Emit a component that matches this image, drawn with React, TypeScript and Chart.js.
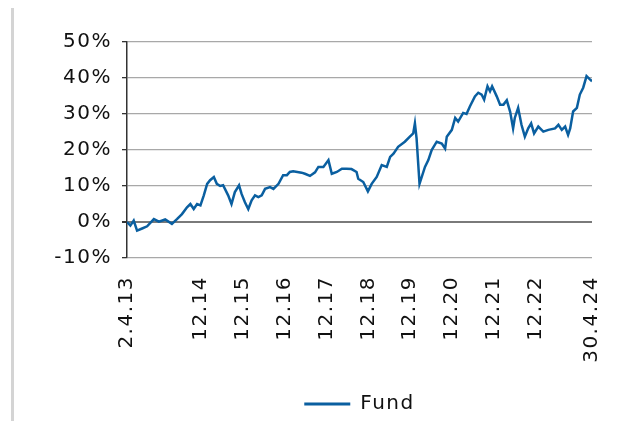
import React, { useEffect, useRef } from "react";
import { Chart, registerables } from "chart.js";

Chart.register(...registerables);

const years = [2013.25, 2013.33, 2013.41, 2013.49, 2013.61, 2013.73, 2013.89, 2014.01, 2014.16, 2014.32, 2014.44, 2014.56, 2014.68, 2014.76, 2014.84, 2014.92, 2015.0, 2015.08, 2015.16, 2015.23, 2015.32, 2015.39, 2015.47, 2015.54, 2015.66, 2015.74, 2015.82, 2015.92, 2015.98, 2016.06, 2016.14, 2016.22, 2016.3, 2016.38, 2016.46, 2016.54, 2016.66, 2016.74, 2016.86, 2016.97, 2017.06, 2017.13, 2017.21, 2017.41, 2017.49, 2017.61, 2017.73, 2017.81, 2017.93, 2018.05, 2018.13, 2018.25, 2018.37, 2018.48, 2018.6, 2018.72, 2018.76, 2018.88, 2018.99, 2019.08, 2019.2, 2019.32, 2019.44, 2019.52, 2019.6, 2019.71, 2019.87, 2019.99, 2020.07, 2020.11, 2020.15, 2020.22, 2020.35, 2020.43, 2020.51, 2020.63, 2020.75, 2020.83, 2020.87, 2020.99, 2021.07, 2021.14, 2021.26, 2021.34, 2021.42, 2021.54, 2021.62, 2021.7, 2021.76, 2021.84, 2021.9, 2021.95, 2022.06, 2022.14, 2022.22, 2022.3, 2022.38, 2022.45, 2022.49, 2022.57, 2022.65, 2022.73, 2022.81, 2022.88, 2022.95, 2023.05, 2023.17, 2023.29, 2023.45, 2023.53, 2023.61, 2023.69, 2023.76, 2023.81, 2023.88, 2023.97, 2024.04, 2024.12, 2024.2, 2024.28, 2024.33];

const fund = [0.0, -1.0, 0.4, -2.4, -1.8, -1.2, 0.8, 0.1, 0.7, -0.5, 0.8, 2.2, 4.1, 5.0, 3.6, 5.0, 4.6, 7.4, 10.6, 11.6, 12.5, 10.6, 10.0, 10.2, 7.4, 5.0, 8.3, 10.2, 7.8, 5.5, 3.6, 6.0, 7.4, 6.9, 7.4, 9.2, 9.7, 9.2, 10.6, 13.0, 13.0, 13.9, 14.1, 13.7, 13.4, 12.8, 13.8, 15.3, 15.3, 17.2, 13.4, 13.9, 14.8, 14.8, 14.7, 13.9, 12.0, 11.1, 8.5, 10.6, 12.5, 15.8, 15.3, 18.1, 19.0, 20.9, 22.3, 23.7, 24.6, 27.4, 23.2, 10.6, 15.3, 17.2, 20.0, 22.3, 21.8, 20.4, 23.7, 25.6, 28.9, 27.9, 30.3, 30.0, 32.1, 34.9, 35.9, 35.4, 34.0, 37.7, 36.3, 37.7, 34.9, 32.6, 32.6, 33.8, 30.6, 26.0, 28.9, 31.7, 27.0, 23.7, 26.0, 27.4, 24.6, 26.5, 25.1, 25.6, 26.0, 27.0, 25.6, 26.5, 24.2, 26.0, 30.7, 31.7, 35.4, 37.3, 40.5, 39.6, 39.1];

const tickValues = [2013.25, 2015.0, 2016.0, 2017.0, 2018.0, 2019.0, 2020.0, 2021.0, 2022.0, 2023.0, 2024.33];
const tickLabels = ["2.4.13", "12.14", "12.15", "12.16", "12.17", "12.18", "12.19", "12.20", "12.21", "12.22", "30.4.24"];

const seriesLabel = "Fund";
const lineColor = "#0a5fa0";
const FONT = "'DejaVu Sans', Verdana, sans-serif";

const spacingPlugin = {
  id: "letterSpacing",
  beforeLayout: (chart: any) => {
    chart.ctx.letterSpacing = "1.5px";
  },
  beforeDraw: (chart: any) => {
    chart.ctx.letterSpacing = "1.5px";
  },
};

export default function App() {
  const ref = useRef<HTMLCanvasElement>(null);
  useEffect(() => {
    const canvas = ref.current;
    if (!canvas) return;
    const chart = new Chart(canvas, {
      type: "line",
      data: {
        datasets: [
          {
            label: seriesLabel,
            data: years.map((x, i) => ({ x, y: fund[i] })),
            borderColor: lineColor,
            backgroundColor: lineColor,
            borderWidth: 2.5,
            pointRadius: 0,
            tension: 0,
          },
        ],
      },
      plugins: [spacingPlugin],
      options: {
        animation: false,
        responsive: false,
        maintainAspectRatio: false,
        layout: { padding: { left: 0, right: 38, top: 42, bottom: 0 } },
        plugins: {
          tooltip: { enabled: false },
          legend: {
            position: "bottom",
            fullSize: false,
            labels: {
              color: "#111",
              font: { family: FONT, size: 20 },
              boxWidth: 46,
              boxHeight: 3,
              padding: 10,
              generateLabels: (c: any) => {
                const items = (Chart.defaults.plugins.legend.labels as any).generateLabels(c);
                return items.map((it: any) => ({ ...it, fillStyle: lineColor, strokeStyle: lineColor, lineWidth: 0 }));
              },
            },
          },
        },
        scales: {
          x: {
            type: "linear",
            min: 2013.25,
            max: 2024.33,
            grid: { display: false },
            border: { display: false },
            afterBuildTicks: (scale: any) => {
              scale.ticks = tickValues.map((v) => ({ value: v }));
            },
            afterFit: (scale: any) => {
              scale.height = 126;
            },
            ticks: {
              autoSkip: false,
              minRotation: 90,
              maxRotation: 90,
              padding: 10,
              color: "#111",
              font: { family: FONT, size: 20 },
              callback: (_v: any, i: number) => tickLabels[i],
            },
          },
          y: {
            min: -10,
            max: 50,
            afterFit: (scale: any) => {
              scale.width = 127;
            },
            border: { display: true, color: "#333", width: 1.5 },
            grid: {
              color: (ctx: any) => (ctx.tick && ctx.tick.value === 0 ? "#7a7a7a" : "#a8a8a8"),
              lineWidth: (ctx: any) => (ctx.tick && ctx.tick.value === 0 ? 2 : 1.3),
              tickColor: "#333",
              tickLength: 5,
            },
            ticks: {
              stepSize: 10,
              padding: 10,
              color: "#111",
              font: { family: FONT, size: 20 },
              callback: (v: any) => v + "%",
            },
          },
        },
      },
    });
    return () => chart.destroy();
  }, []);
  return (
    <div style={{ position: "fixed", left: 0, top: 0, width: 630, height: 421, overflow: "hidden", background: "#fff" }}>
      <div style={{ position: "absolute", left: 11, top: 8, width: 3, height: 413, background: "#d4d4d4" }} />
      <canvas ref={ref} width={630} height={424} style={{ position: "absolute", left: 0, top: 0 }} />
    </div>
  );
}
